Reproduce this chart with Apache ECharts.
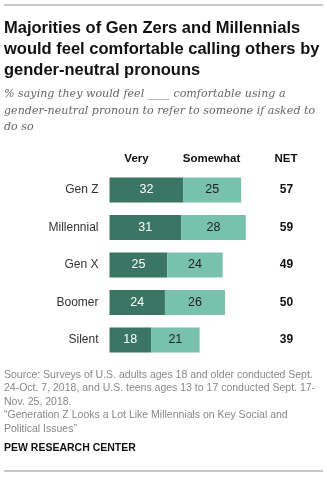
<!DOCTYPE html>
<html><head><meta charset="utf-8">
<script src="https://cdn.jsdelivr.net/npm/echarts@6/dist/echarts.min.js"></script>
<style>html,body{margin:0;padding:0;background:#fff}#c{width:327px;height:479px}</style>
</head><body><div id="c"></div>
<script>
var categories = ['Gen Z', 'Millennial', 'Gen X', 'Boomer', 'Silent'];
var veryValues = [32, 31, 25, 24, 18];
var somewhatValues = [25, 28, 24, 26, 21];
var netValues = [57, 59, 49, 50, 39];
var seriesNames = ['Very', 'Somewhat', 'NET'];

var titleText = 'Majorities of Gen Zers and Millennials\nwould feel comfortable calling others by\ngender-neutral pronouns';
var subtitleText = '% saying they would feel ____ comfortable using a\ngender-neutral pronoun to refer to someone if asked to\ndo so';
var sourceText = 'Source: Surveys of U.S. adults ages 18 and older conducted Sept.\n24-Oct. 7, 2018, and U.S. teens ages 13 to 17 conducted Sept. 17-\nNov. 25, 2018.\n\u201cGeneration Z Looks a Lot Like Millennials on Key Social and\nPolitical Issues\u201d';

var chart = echarts.init(document.getElementById('c'));
var sans = '"Liberation Sans", Arial, sans-serif';
chart.setOption({
  animation: false,
  grid: { left: 109.5, top: 171.25, width: 231, height: 187.5, containLabel: false, outerBoundsMode: 'none' },
  xAxis: { type: 'value', min: 0, max: 100, show: false },
  yAxis: [
    { type: 'category', data: categories, inverse: true,
      axisLine: { show: false }, axisTick: { show: false },
      axisLabel: { color: '#333', fontSize: 12, fontFamily: sans, margin: 11 } },
    { type: 'category', data: netValues, inverse: true, position: 'right', offset: -54,
      axisLine: { show: false }, axisTick: { show: false },
      axisLabel: { color: '#111', fontSize: 12, fontWeight: 'bold', fontFamily: sans, margin: 0, align: 'center' } }
  ],
  series: [
    { name: seriesNames[0], type: 'bar', stack: 'a', data: veryValues, barWidth: 25,
      itemStyle: { color: '#3b7563' },
      label: { show: true, position: 'inside', color: '#fff', fontSize: 12.5, fontFamily: sans } },
    { name: seriesNames[1], type: 'bar', stack: 'a', data: somewhatValues, barWidth: 25,
      itemStyle: { color: '#77c1ad' },
      label: { show: true, position: 'inside', color: '#222', fontSize: 12.5, fontFamily: sans } }
  ],
  graphic: [
    { type: 'rect', shape: { x: 4, y: 4, width: 319, height: 2 }, style: { fill: '#c8c8c8' } },
    { type: 'text', x: 4, y: 18, style: { text: titleText, fontSize: 16.5, fontWeight: 'bold', fontFamily: sans, fill: '#111', lineHeight: 21 } },
    { type: 'text', x: 4, y: 86, style: { text: subtitleText, fontSize: 11.1, fontStyle: 'italic', fontFamily: '"DejaVu Serif", Georgia, serif', fill: '#666', lineHeight: 16.5 } },
    { type: 'text', x: 136.5, y: 159, style: { text: seriesNames[0], fontSize: 11.5, fontWeight: 'bold', fontFamily: sans, fill: '#111', align: 'center', verticalAlign: 'middle' } },
    { type: 'text', x: 211.5, y: 159, style: { text: seriesNames[1], fontSize: 11.5, fontWeight: 'bold', fontFamily: sans, fill: '#111', align: 'center', verticalAlign: 'middle' } },
    { type: 'text', x: 286, y: 159, style: { text: seriesNames[2], fontSize: 11.5, fontWeight: 'bold', fontFamily: sans, fill: '#111', align: 'center', verticalAlign: 'middle' } },
    { type: 'text', x: 4, y: 368, style: { text: sourceText, fontSize: 10.5, fontFamily: sans, fill: '#888', lineHeight: 13.5 } },
    { type: 'text', x: 4, y: 443, style: { text: 'PEW RESEARCH CENTER', fontSize: 10.5, fontWeight: 'bold', fontFamily: sans, fill: '#111' } },
    { type: 'rect', shape: { x: 4, y: 470, width: 319, height: 2 }, style: { fill: '#c8c8c8' } }
  ]
});
</script></body></html>
